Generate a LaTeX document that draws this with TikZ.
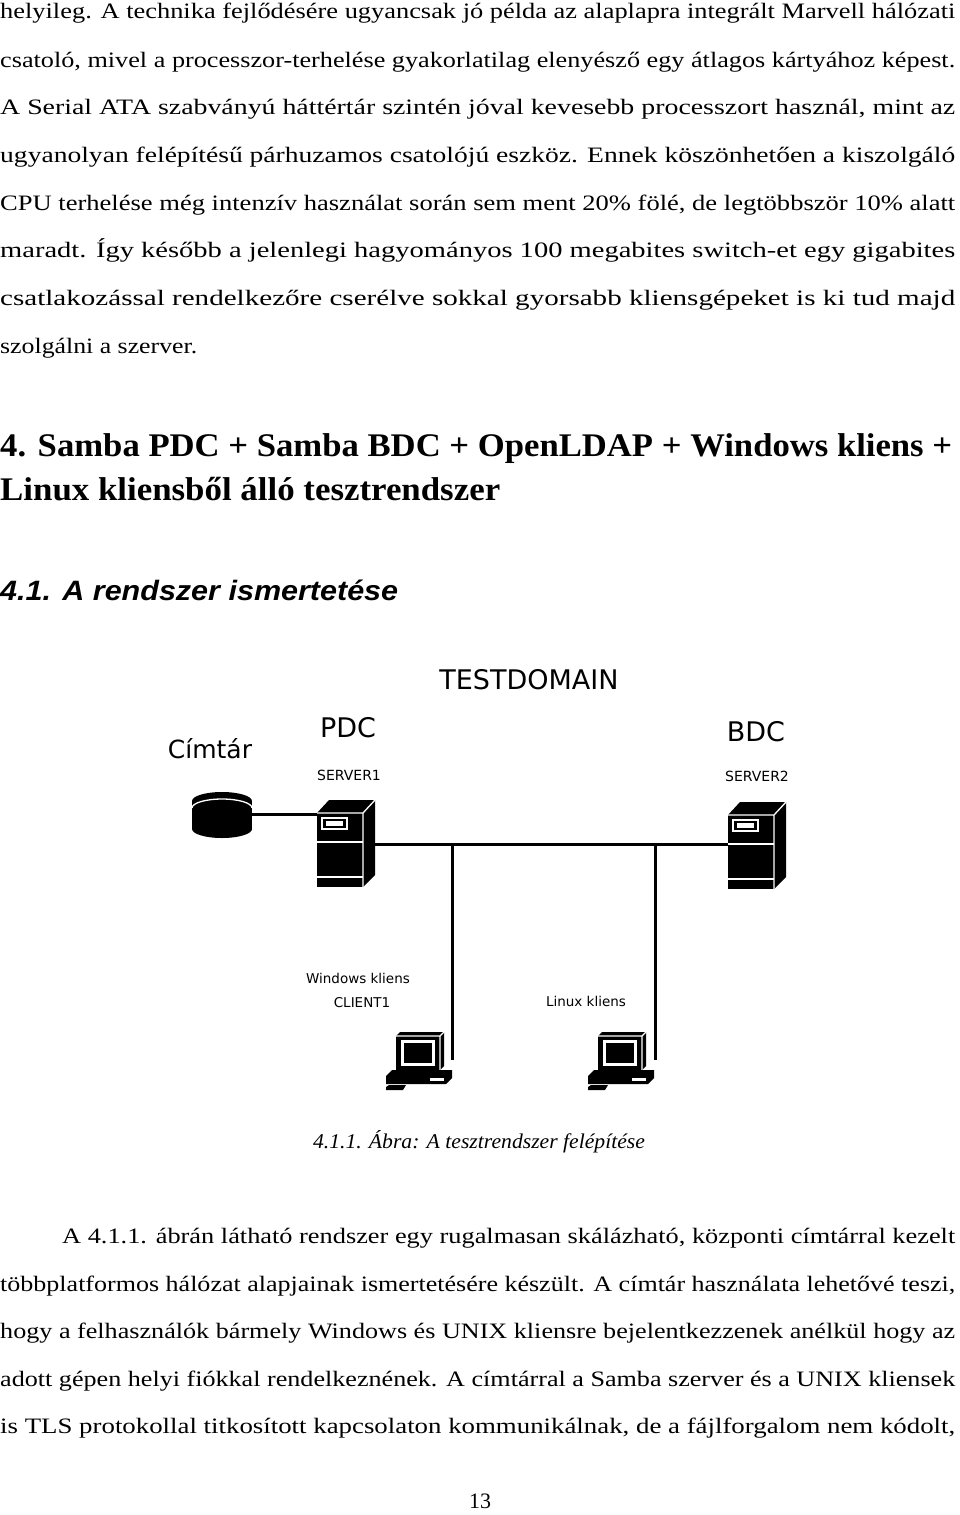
\documentclass[tikz,border=0pt]{standalone}
\usepackage{fontspec}
\setmainfont{Liberation Serif}
\newfontfamily\diag{DejaVu Sans}
\newfontfamily\hsans{Liberation Sans}
\newcommand{\fitw}[2]{\resizebox{#1}{\height}{#2}}
\begin{document}
\begin{tikzpicture}[x=1pt,y=-1pt,
  body/.style={anchor=base west,inner sep=0pt,font=\fontsize{22}{24}\selectfont},
  hd/.style={anchor=base west,inner sep=0pt,font=\fontsize{33}{36}\selectfont\bfseries},
  lbl/.style={inner sep=0pt,font=\diag},
  wire/.style={line width=3pt},
  pics/server/.style={code={
    \fill (0,13) -- (12,0) -- (58,0) -- (46,13) -- cycle;
    \fill (46,13) -- (58,0) -- (58,75) -- (46,87) -- cycle;
    \fill (0,13) rectangle (46,87);
    \draw[white,line width=1.3pt] (0,13) -- (46,13) -- (58,0) (46,13) -- (46,87);
    \draw[white,line width=1.5pt] (0,42) -- (46,42) (0,77) -- (46,77);
    \draw[white,line width=1.3pt] (5,18) rectangle (30,29);
    \fill[white] (9,21) rectangle (26,26);
  }},
  pics/ws/.style={code={
    \fill (10,4) -- (14,0) -- (58,0) -- (58,34) -- (54,38) -- (10,38) -- cycle;
    \draw[white,line width=1.2pt] (10,4) -- (54,4) -- (58,0) (54,4) -- (54,38);
    \fill[white] (15,8) rectangle (49,34);
    \fill (18,11) rectangle (46,31);
    \fill (0,44) -- (6,38) -- (66,38) -- (66,46) -- (60,52) -- (0,52) -- cycle;
    \fill[white] (44,46) rectangle (58,49);
    \fill (0,55) -- (3,53) -- (20,53) -- (17,58) -- (0,58) -- cycle;
  }}]
\useasboundingbox (0,0) rectangle (960,1515);
\fill[white] (0,0) rectangle (960,1515);
% body lines
\node[body] (l1) at (0,19) {\fitw{955pt}{helyileg. A technika fejlődésére ugyancsak jó példa az alaplapra integrált Marvell hálózati}};
\node[body] (l2) at (0,67) {\fitw{955pt}{csatoló, mivel a processzor-terhelése gyakorlatilag elenyésző egy átlagos kártyához képest.}};
\node[body] (l3) at (0,114) {\fitw{955pt}{A Serial ATA szabványú háttértár szintén jóval kevesebb processzort használ, mint az}};
\node[body] (l4) at (0,162) {\fitw{955pt}{ugyanolyan felépítésű párhuzamos csatolójú eszköz. Ennek köszönhetően a kiszolgáló}};
\node[body] (l5) at (0,210) {\fitw{955pt}{CPU terhelése még intenzív használat során sem ment 20\% fölé, de legtöbbször 10\% alatt}};
\node[body] (l6) at (0,257) {\fitw{955pt}{maradt. Így később a jelenlegi hagyományos 100 megabites switch-et egy gigabites}};
\node[body] (l7) at (0,305) {\fitw{955pt}{csatlakozással rendelkezőre cserélve sokkal gyorsabb kliensgépeket is ki tud majd}};
\node[body] (l8) at (0,353) {\fitw{197pt}{szolgálni a szerver.}};
% headings
\node[hd] (h1) at (0,456) {\fitw{952pt}{4. Samba PDC + Samba BDC + OpenLDAP + Windows kliens +}};
\node[hd] (h2) at (0,500) {\fitw{500pt}{Linux kliensből álló tesztrendszer}};
\node[anchor=base west,inner sep=0pt,font=\hsans\fontsize{28}{30}\selectfont\bfseries\itshape] (h3) at (0,600) {\fitw{398pt}{4.1. A rendszer ismertetése}};
% diagram labels
\node[lbl,font=\diag\fontsize{27}{30}\selectfont] (td) at (529,680) {TESTDOMAIN};
\node[lbl,font=\diag\fontsize{27}{30}\selectfont] (pdc) at (348,728) {PDC};
\node[lbl,font=\diag\fontsize{27}{30}\selectfont] (bdc) at (756,732) {BDC};
\node[lbl,font=\diag\fontsize{25}{28}\selectfont] (cim) at (210,749) {Címtár};
\node[lbl,font=\diag\fontsize{14}{16}\selectfont] (s1) at (349,775) {SERVER1};
\node[lbl,font=\diag\fontsize{14}{16}\selectfont] (s2) at (757,776) {SERVER2};
\node[lbl,font=\diag\fontsize{13.5}{16}\selectfont] (wk) at (358,978) {Windows kliens};
\node[lbl,font=\diag\fontsize{13.5}{16}\selectfont] (c1) at (362,1003) {CLIENT1};
\node[lbl,font=\diag\fontsize{13.5}{16}\selectfont] (lk) at (586,1001) {Linux kliens};
% icons
\pic at (317,800) {server};
\pic at (728,802) {server};
\pic at (386,1032) {ws};
\pic at (588,1032) {ws};
% database
\fill (192,801) rectangle (252,829);
\fill (222,829) ellipse (30 and 9);
\fill (222,801) ellipse (30 and 9);
\draw[white,line width=1.3pt] (192,808) arc[start angle=180,end angle=360,x radius=30,y radius=9];
\coordinate (db) at (252,814);
\coordinate (pdcL) at (317,814);
\coordinate (pdcR) at (375,844);
\coordinate (bdcL) at (728,844);
\coordinate (d1) at (452,844);
\coordinate (d2) at (655,844);
\coordinate (w1) at (452,1060);
\coordinate (w2) at (655,1060);
\draw[wire] (db) -- (pdcL);
\draw[wire] (pdcR) -- (bdcL);
\draw[wire] (d1) -- (w1);
\draw[wire] (d2) -- (w2);
% caption
\node[anchor=base,inner sep=0pt,font=\fontsize{21}{24}\selectfont\itshape] (cap) at (479,1148) {\fitw{332pt}{4.1.1. Ábra: A tesztrendszer felépítése}};
\node[body] (p1) at (62,1243) {\fitw{893pt}{A 4.1.1. ábrán látható rendszer egy rugalmasan skálázható, központi címtárral kezelt}};
\node[body] (p2) at (0,1291) {\fitw{955pt}{többplatformos hálózat alapjainak ismertetésére készült. A címtár használata lehetővé teszi,}};
\node[body] (p3) at (0,1338) {\fitw{955pt}{hogy a felhasználók bármely Windows és UNIX kliensre bejelentkezzenek anélkül hogy az}};
\node[body] (p4) at (0,1386) {\fitw{955pt}{adott gépen helyi fiókkal rendelkeznének. A címtárral a Samba szerver és a UNIX kliensek}};
\node[body] (p5) at (0,1433) {\fitw{955pt}{is TLS protokollal titkosított kapcsolaton kommunikálnak, de a fájlforgalom nem kódolt,}};
\node[anchor=base,inner sep=0pt,font=\fontsize{22}{24}\selectfont] (pg) at (480,1508) {13};
\end{tikzpicture}
\end{document}
